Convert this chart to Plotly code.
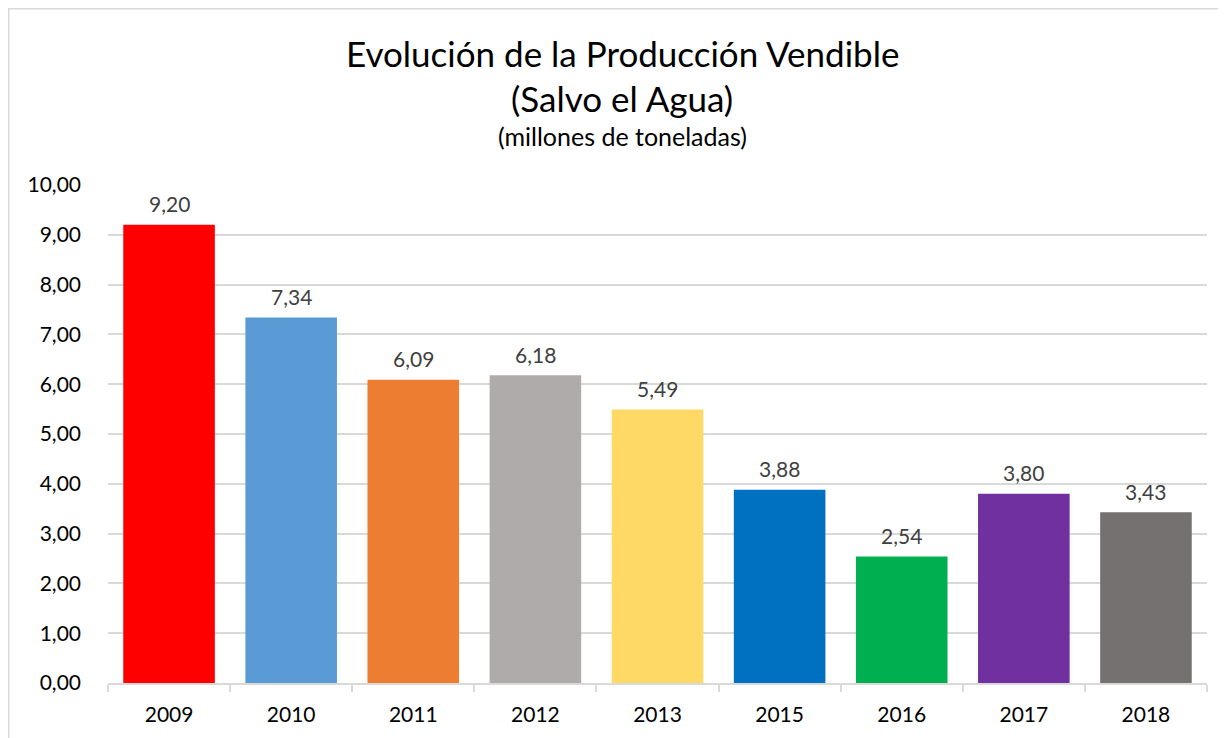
import plotly.graph_objects as go

# Datos: producción vendible (millones de toneladas)
years = ["2009", "2010", "2011", "2012", "2013", "2015", "2016", "2017", "2018"]
production = [9.20, 7.34, 6.09, 6.18, 5.49, 3.88, 2.54, 3.80, 3.43]
bar_colors = ["#FF0000", "#5B9BD5", "#ED7D31", "#AFABAB", "#FFD966",
              "#0070C0", "#00B050", "#7030A0", "#767171"]
y_ticks = [0, 1, 2, 3, 4, 5, 6, 7, 8, 9, 10]

FONT = "Lato, 'Open Sans', sans-serif"

# figure geometry (page has an 8px body margin)
W, H = 1218, 730
L, R, T, B = 100, 19, 177, 55
PW, PH = W - L - R, H - T - B


def px_x(x):
    return (x - L) / PW


def px_y(y):
    return (H - B - y) / PH


fig = go.Figure(
    go.Bar(
        x=years,
        y=production,
        marker=dict(color=bar_colors, line=dict(width=0)),
        width=0.75,
        showlegend=False,
        hoverinfo="x+y",
    )
)

# etiquetas de datos (category axis -> use category index)
for i, val in enumerate(production):
    fig.add_annotation(x=i, y=val, text=f"{val:.2f}".replace(".", ","),
                       showarrow=False, yanchor="middle", yshift=21,
                       font=dict(size=21, color="#404040", family=FONT))

# Títulos
titles = [("Evolución de la Producción Vendible", 45, 35),
          ("(Salvo el Agua)", 90, 35),
          ("(millones de toneladas)", 128, 25)]
for txt, ypix, size in titles:
    fig.add_annotation(text=txt, x=px_x(614), y=px_y(ypix),
                       xref="paper", yref="paper", showarrow=False,
                       xanchor="center", yanchor="middle",
                       font=dict(size=size, color="#000000", family=FONT))

# marco del gráfico
fig.add_shape(type="rect", xref="paper", yref="paper",
              x0=px_x(0.75), x1=px_x(W + 20),
              y0=px_y(H + 20), y1=px_y(0.75),
              line=dict(color="#D9D9D9", width=1.5), layer="below")

fig.update_layout(
    width=W,
    height=H,
    margin=dict(l=L, r=R, t=T, b=B, autoexpand=False),
    plot_bgcolor="white",
    paper_bgcolor="white",
    separators=",.",
    bargap=0.25,
    font=dict(family=FONT, color="#000000"),
)

fig.update_yaxes(
    range=[0, 10],
    tickvals=y_ticks,
    tickformat=".2f",
    tickfont=dict(size=21, color="#000000"),
    showgrid=True,
    gridcolor="#D9D9D9",
    gridwidth=1.5,
    zeroline=False,
    showline=False,
    ticks="",
    ticklabelstandoff=26,
)

fig.update_xaxes(
    type="category",
    range=[-0.5, len(years) - 0.5],
    tickangle=0,
    tickfont=dict(size=21, color="#000000"),
    showline=True,
    linecolor="#D9D9D9",
    linewidth=1.5,
    ticks="outside",
    tickson="boundaries",
    ticklen=7,
    tickcolor="#D9D9D9",
    tickwidth=1.5,
    ticklabelstandoff=12,
    showgrid=False,
)

fig.write_html("out.html")
